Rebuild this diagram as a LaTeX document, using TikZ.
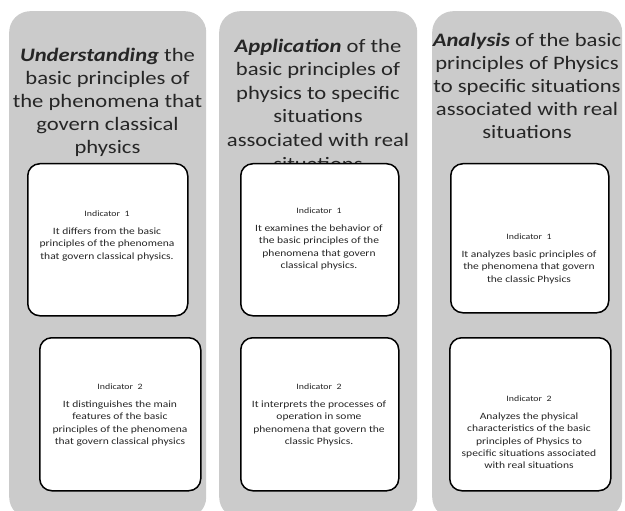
\documentclass[tikz,border=0pt]{standalone}
\usepackage{fontspec}
\setmainfont{Carlito}
\newfontfamily\titlefam[FakeStretch=1.19]{Carlito}
\newfontfamily\bodyfam[FakeStretch=1.2]{Carlito}
\definecolor{colgrey}{RGB}{203,203,203}
\tikzset{
  column/.style={fill=colgrey, rounded corners=21pt, inner sep=0pt, anchor=north west},
  title/.style={align=center, inner sep=0pt, anchor=north, text=black!85,
    font=\titlefam\fontsize{19}{23}\selectfont},
  indbox/.style={draw=black, line width=1.5pt, fill=white, rounded corners=12pt,
    inner sep=0pt, anchor=north west},
  content/.style={align=center, inner sep=0pt, anchor=north, text=black!85,
    font=\bodyfam\fontsize{9.6}{12.3}\selectfont},
}
\newcommand{\indlabel}[1]{{\fontsize{8.2}{10}\selectfont Indicator\ \ #1}\\[5.5pt]}
\begin{document}
\begin{tikzpicture}[x=1pt,y=-1pt]
\useasboundingbox (0,0) rectangle (625,511);
\clip (0,0) rectangle (625,511);
% columns
\node[column, minimum width=197pt, minimum height=507pt] (c1) at (9,11) {};
\node[column, minimum width=198pt, minimum height=507pt] (c2) at (219,11) {};
\node[column, minimum width=190pt, minimum height=507pt] (c3) at (432,11) {};
% titles
\node[title] (t1) at (107.5,48) {\textbf{\textit{Understanding}} the\\basic principles of\\the phenomena that\\govern classical\\physics};
\node[title, font=\titlefam\fontsize{19}{23.6}\selectfont] (t2) at (318,38.5) {\textbf{\textit{Application}} of the\\basic principles of\\physics to specific\\situations\\associated with real\\situations};
\node[title] (t3) at (527,33) {\textbf{\textit{Analysis}} of the basic\\principles of Physics\\to specific situations\\associated with real\\situations};
% indicator boxes
\node[indbox, minimum width=160pt, minimum height=152pt] (b11) at (27,163) {};
\node[indbox, minimum width=161pt, minimum height=153pt] (b12) at (39,337) {};
\node[indbox, minimum width=158pt, minimum height=152pt] (b21) at (240,163) {};
\node[indbox, minimum width=158pt, minimum height=153pt] (b22) at (240,337) {};
\node[indbox, minimum width=158pt, minimum height=149pt] (b31) at (450,163) {};
\node[indbox, minimum width=161pt, minimum height=153pt] (b32) at (449,337) {};
% contents
\node[content] (x11) at (107,211) {\indlabel{1}It differs from the basic\\principles of the phenomena\\that govern classical physics.};
\node[content] (x12) at (120,384) {\indlabel{2}It distinguishes the main\\features of the basic\\principles of the phenomena\\that govern classical physics};
\node[content] (x21) at (319,208) {\indlabel{1}It examines the behavior of\\the basic principles of the\\phenomena that govern\\classical physics.};
\node[content] (x22) at (319,384) {\indlabel{2}It interprets the processes of\\operation in some\\phenomena that govern the\\classic Physics.};
\node[content] (x31) at (529,234) {\indlabel{1}It analyzes basic principles of\\the phenomena that govern\\the classic Physics};
\node[content] (x32) at (529,396) {\indlabel{2}Analyzes the physical\\characteristics of the basic\\principles of Physics to\\specific situations associated\\with real situations};
\end{tikzpicture}
\end{document}
